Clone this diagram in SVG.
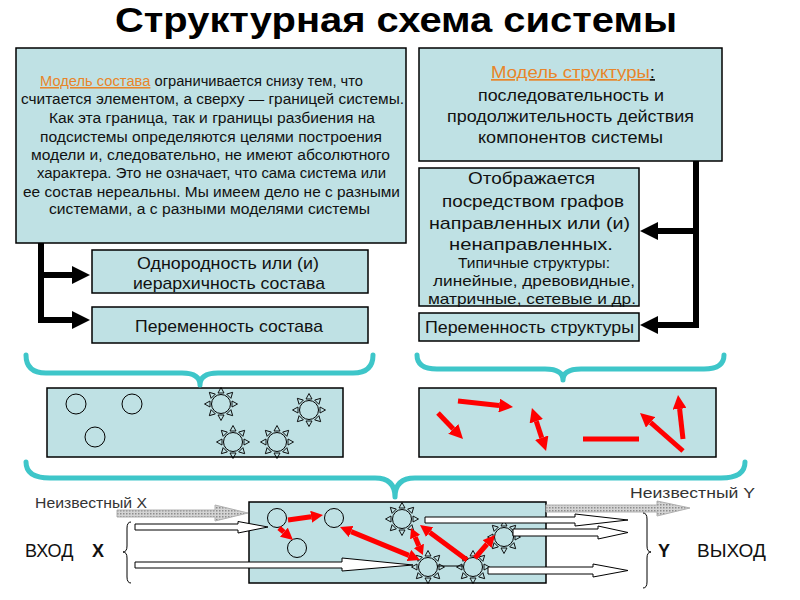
<svg xmlns="http://www.w3.org/2000/svg" xmlns:xlink="http://www.w3.org/1999/xlink" width="800" height="600" viewBox="0 0 800 600">
<style>
text{font-family:"Liberation Sans",Arial,sans-serif;fill:#111}
.box{fill:#bfe1e4;stroke:#000;stroke-width:1.5}
.t15{font-size:15.5px}
.t16{font-size:17px}
.t14{font-size:14.5px}
.lnk{fill:#e8852a;text-decoration:underline}
.ul{text-decoration:underline}
.blk{stroke:#000;stroke-width:6;fill:none}
.red{stroke:#f00;stroke-width:5;fill:none}
.brace{stroke:#3ec6c9;stroke-width:5;fill:none;stroke-linecap:round;stroke-linejoin:round}
.thin{stroke:#000;stroke-width:1;fill:none}
.warr{fill:#fff;stroke:#000;stroke-width:1}
.garr{fill:url(#dots);stroke:#b0b0b0;stroke-width:1}
.el{fill:none;stroke:#000;stroke-width:1}
</style>
<defs>
<pattern id="dots" patternUnits="userSpaceOnUse" width="3" height="3">
<rect width="3" height="3" fill="#d4d4d4"/>
<rect width="1.5" height="1.5" fill="#8c8c8c"/>
</pattern>
<marker id="ah" markerUnits="userSpaceOnUse" markerWidth="18" markerHeight="18" viewBox="0 0 18 18" refX="0" refY="9" orient="auto"><path d="M0,0 L18,9 L0,18 Z" fill="#000"/></marker>
<marker id="rh" markerUnits="userSpaceOnUse" markerWidth="14" markerHeight="14" viewBox="0 0 14 14" refX="0" refY="7" orient="auto-start-reverse"><path d="M0,0 L14,7 L0,14 Z" fill="#f00"/></marker>
<marker id="rm" markerUnits="userSpaceOnUse" markerWidth="12" markerHeight="12" viewBox="0 0 12 12" refX="0" refY="6" orient="auto-start-reverse"><path d="M0,0 L12,6 L0,12 Z" fill="#f00"/></marker>
<marker id="rs" markerUnits="userSpaceOnUse" markerWidth="10" markerHeight="11" viewBox="0 0 10 11" refX="0" refY="5.5" orient="auto-start-reverse"><path d="M0,0 L10,5.5 L0,11 Z" fill="#f00"/></marker>
<path id="tri" d="M11,-3 L16.5,0 L11,3 Z" fill="none" stroke="#000" stroke-width="0.9"/>
<g id="sun">
<circle r="9.5" fill="none" stroke="#000" stroke-width="1"/>
<use href="#tri"/><use href="#tri" transform="rotate(45)"/><use href="#tri" transform="rotate(90)"/><use href="#tri" transform="rotate(135)"/>
<use href="#tri" transform="rotate(180)"/><use href="#tri" transform="rotate(225)"/><use href="#tri" transform="rotate(270)"/><use href="#tri" transform="rotate(315)"/>
</g>
</defs>
<rect width="800" height="600" fill="#fff"/>

<g id="title">
<text x="115" y="32" font-size="35" font-weight="bold" textLength="562" lengthAdjust="spacingAndGlyphs" style="fill:#000">Структурная схема системы</text>
</g>

<g id="model-sostava">
<rect class="box" x="16" y="48" width="390" height="195"/>
<text class="t15" x="40" y="86" textLength="323" lengthAdjust="spacingAndGlyphs"><tspan class="lnk">Модель состава</tspan> ограничивается снизу тем, что</text>
<text class="t15" x="21" y="104" textLength="383" lengthAdjust="spacingAndGlyphs">считается элементом, а сверху — границей системы.</text>
<text class="t15" x="49" y="123" textLength="326" lengthAdjust="spacingAndGlyphs">Как эта граница, так и границы разбиения на</text>
<text class="t15" x="40" y="142" textLength="342" lengthAdjust="spacingAndGlyphs">подсистемы определяются целями построения</text>
<text class="t15" x="31" y="160" textLength="359" lengthAdjust="spacingAndGlyphs">модели и,  следовательно, не имеют абсолютного</text>
<text class="t15" x="37" y="178" textLength="349" lengthAdjust="spacingAndGlyphs">характера. Это не означает, что сама система или</text>
<text class="t15" x="23" y="197" textLength="377" lengthAdjust="spacingAndGlyphs">ее состав нереальны. Мы имеем дело не с разными</text>
<text class="t15" x="49" y="214" textLength="321" lengthAdjust="spacingAndGlyphs">системами, а с разными моделями системы</text>
</g>

<g id="odnorodnost">
<rect class="box" x="92" y="250" width="276" height="43"/>
<text class="t16" x="137" y="269" textLength="182" lengthAdjust="spacingAndGlyphs">Однородность или (и)</text>
<text class="t16" x="133" y="289" textLength="192" lengthAdjust="spacingAndGlyphs">иерархичность состава</text>
</g>

<g id="peremennost-sostava">
<rect class="box" x="92" y="307" width="276" height="36"/>
<text class="t16" x="135" y="332" textLength="188" lengthAdjust="spacingAndGlyphs">Переменность состава</text>
</g>

<g id="model-struktury">
<rect class="box" x="419" y="48" width="303" height="113"/>
<text class="t16" x="491" y="78" textLength="164" lengthAdjust="spacingAndGlyphs"><tspan class="lnk">Модель структуры</tspan><tspan class="ul">:</tspan></text>
<text class="t16" x="478" y="101" textLength="186" lengthAdjust="spacingAndGlyphs">последовательность и</text>
<text class="t16" x="447" y="122" textLength="247" lengthAdjust="spacingAndGlyphs">продолжительность действия</text>
<text class="t16" x="478" y="143" textLength="185" lengthAdjust="spacingAndGlyphs">компонентов системы</text>
</g>

<g id="otobrazhaetsya">
<rect class="box" x="419" y="168" width="220" height="138"/>
<text class="t16" x="468" y="184" textLength="127" lengthAdjust="spacingAndGlyphs">Отображается</text>
<text class="t16" x="442" y="207" textLength="182" lengthAdjust="spacingAndGlyphs">посредством графов</text>
<text class="t16" x="429" y="229" textLength="201" lengthAdjust="spacingAndGlyphs">направленных или (и)</text>
<text class="t16" x="449" y="250" textLength="164" lengthAdjust="spacingAndGlyphs">ненаправленных.</text>
<text class="t14" x="458" y="268" textLength="152" lengthAdjust="spacingAndGlyphs">Типичные  структуры:</text>
<text class="t14" x="433" y="286" textLength="202" lengthAdjust="spacingAndGlyphs">линейные,  древовидные,</text>
<text class="t14" x="428" y="304" textLength="208" lengthAdjust="spacingAndGlyphs">матричные, сетевые и др.</text>
</g>

<g id="peremennost-struktury">
<rect class="box" x="419" y="313" width="220" height="28"/>
<text class="t16" x="425" y="333" textLength="209" lengthAdjust="spacingAndGlyphs">Переменность структуры</text>
</g>

<g id="elements-sostav">
<rect class="box" x="47" y="388" width="296" height="69"/>
<circle class="el" cx="76" cy="404" r="10"/>
<circle class="el" cx="132" cy="404" r="10"/>
<circle class="el" cx="95" cy="437" r="10"/>
<use href="#sun" x="221" y="404"/>
<use href="#sun" x="309" y="410"/>
<use href="#sun" x="233" y="442"/>
<use href="#sun" x="277" y="442"/>
</g>

<g id="elements-struktura">
<rect class="box" x="419" y="388" width="297" height="69"/>
<line class="red" x1="438" y1="413" x2="453.3" y2="428.9" marker-end="url(#rh)"/>
<line class="red" x1="458" y1="401" x2="499.1" y2="405.5" marker-end="url(#rh)"/>
<line class="red" x1="536.3" y1="421.3" x2="541.7" y2="437.7" marker-start="url(#rh)" marker-end="url(#rh)"/>
<line class="red" x1="583" y1="439" x2="639" y2="439"/>
<line class="red" x1="683" y1="451" x2="650.5" y2="422.3" marker-end="url(#rh)"/>
<line class="red" x1="683" y1="439" x2="679.6" y2="408.9" marker-end="url(#rh)"/>
</g>

<g id="system">
<rect class="box" x="249" y="502" width="297" height="81"/>
<circle class="el" cx="277" cy="518" r="9.5"/>
<circle class="el" cx="334" cy="518" r="9.5"/>
<circle class="el" cx="297" cy="548" r="9.5"/>
<use href="#sun" x="402" y="519"/>
<use href="#sun" x="428" y="567"/>
<use href="#sun" x="473" y="567"/>
<use href="#sun" x="504" y="537"/>
</g>

<g id="labels">
<text x="35" y="508" font-size="15" textLength="112" lengthAdjust="spacingAndGlyphs" style="fill:#333">Неизвестный X</text>
<text x="630" y="498" font-size="15" textLength="125" lengthAdjust="spacingAndGlyphs" style="fill:#333">Неизвестный Y</text>
<text x="25" y="557" font-size="18">ВХОД</text>
<text x="92" y="557" font-size="18" font-weight="bold">X</text>
<text x="658" y="557" font-size="18" font-weight="bold">Y</text>
<text x="697" y="557" font-size="19">ВЫХОД</text>
</g>

<g id="connectors">
<path class="blk" d="M41,243 V323"/>
<path class="blk" d="M38,275 H72" marker-end="url(#ah)"/>
<path class="blk" d="M38,320 H72" marker-end="url(#ah)"/>
<path class="blk" d="M696,161 V328"/>
<path class="blk" d="M699,231 H658" marker-end="url(#ah)"/>
<path class="blk" d="M699,325 H658" marker-end="url(#ah)"/>

<path class="brace" d="M26,355 Q26,373 46,373 L182,373 Q200,373 200,385 Q200,373 218,373 L353,373 Q373,373 373,355"/>
<path class="brace" d="M417,355 Q417,369 437,369 L545,369 Q563,369 563,380 Q563,369 581,369 L704,369 Q724,369 724,355"/>
<path class="brace" d="M26,462 Q26,478 50,478 L375,478 Q395,478 395,497 Q395,478 415,478 L721,478 Q745,478 745,462"/>

<polygon class="garr" points="117,510 215,510 215,505 248,513 215,521 215,517 117,517"/>
<polygon class="garr" points="546,505 657,505 657,501 690,508 657,516 657,512 546,512"/>
<polygon class="warr" points="135,524 238,524 238,521.5 268,527 238,533 238,530 135,530"/>
<polygon class="warr" points="135,562 342,562 342,558 413,565 342,571 342,568 135,568"/>
<polygon class="warr" points="425,517 575,517 575,514 628,520 575,526 575,523 425,523"/>
<polygon class="warr" points="513,529 598,529 598,526 628,532.5 598,539 598,536 513,536"/>
<polygon class="warr" points="488,567 593,567 593,564 628,570.5 593,577 593,574 488,574"/>
<line class="thin" x1="437" y1="566" x2="463" y2="566"/>

<path class="thin" d="M131,522 Q127,522 127,528 L127,546 Q127,552 123,552 Q127,552 127,558 L127,577 Q127,583 131,583"/>
<path class="thin" d="M643,513 Q647,513 647,519 L647,546 Q647,552 651,552 Q647,552 647,558 L647,582 Q647,588 643,588"/>

<line class="red" x1="288" y1="520" x2="311.1" y2="516.7" marker-end="url(#rm)"/>
<line class="red" x1="279" y1="528" x2="283.9" y2="532.2" marker-end="url(#rm)"/>
<line class="red" x1="351.1" y1="531.6" x2="408.9" y2="555.4" marker-start="url(#rm)" marker-end="url(#rm)"/>
<line class="red" x1="415.1" y1="537.1" x2="418.9" y2="545.9" marker-start="url(#rs)" marker-end="url(#rs)"/>
<line class="red" x1="467" y1="560" x2="429.6" y2="532.2" marker-end="url(#rm)"/>
<line class="red" x1="475" y1="558" x2="487.1" y2="544" marker-end="url(#rm)"/>
</g>
</svg>
